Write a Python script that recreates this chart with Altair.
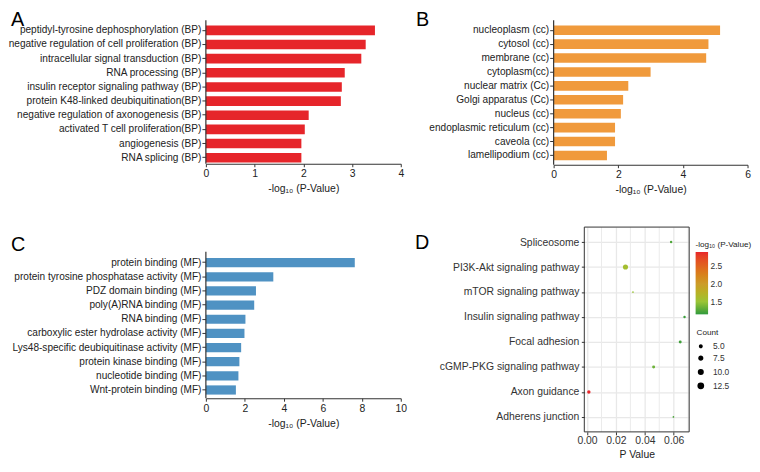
import altair as alt
import numpy as np
import pandas as pd

FONT = "Liberation Sans"
TXT = "#222222"

bp_terms = ["peptidyl-tyrosine dephosphorylation (BP)",
            "negative regulation of cell proliferation (BP)",
            "intracellular signal transduction (BP)",
            "RNA processing (BP)",
            "insulin receptor signaling pathway (BP)",
            "protein K48-linked deubiquitination(BP)",
            "negative regulation of axonogenesis (BP)",
            "activated T cell proliferation(BP)",
            "angiogenesis (BP)",
            "RNA splicing (BP)"]
bp_vals = [3.47, 3.28, 3.19, 2.85, 2.79, 2.77, 2.11, 2.03, 1.96, 1.96]

cc_terms = ["nucleoplasm (cc)", "cytosol (cc)", "membrane (cc)", "cytoplasm(cc)",
            "nuclear matrix (Cc)", "Golgi apparatus (Cc)", "nucleus (cc)",
            "endoplasmic reticulum (cc)", "caveola (cc)", "lamellipodium (cc)"]
cc_vals = [5.15, 4.79, 4.72, 3.00, 2.31, 2.15, 2.08, 1.90, 1.90, 1.65]

mf_terms = ["protein binding (MF)",
            "protein tyrosine phosphatase activity (MF)",
            "PDZ domain binding (MF)",
            "poly(A)RNA binding (MF)",
            "RNA binding (MF)",
            "carboxylic ester hydrolase activity (MF)",
            "Lys48-specific deubiquitinase activity (MF)",
            "protein kinase binding (MF)",
            "nucleotide binding (MF)",
            "Wnt-protein binding (MF)"]
mf_vals = [7.64, 3.46, 2.57, 2.48, 2.03, 1.98, 1.81, 1.72, 1.67, 1.54]

kegg_terms = ["Spliceosome", "PI3K-Akt signaling pathway", "mTOR signaling pathway",
              "Insulin signaling pathway", "Focal adhesion", "cGMP-PKG signaling pathway",
              "Axon guidance", "Adherens junction"]
kegg_p = [0.0582, 0.0266, 0.0318, 0.0675, 0.0645, 0.0461, 0.00125, 0.0598]
kegg_count = [5, 12, 4, 5, 6, 6, 7, 4]

p_ticks = [0.0, 0.02, 0.04, 0.06]
minor_grid = [0.01, 0.03, 0.05, 0.07]

XTITLE = "-log\u2081\u2080 (P-Value)"

D_W, D_H = 106, 207


def letter_layer(letter, lx, ly):
    return alt.Chart(pd.DataFrame({"t": [letter]})).mark_text(
        align="left", baseline="top", fontSize=20, font=FONT, color="black"
    ).encode(text="t:N", x=alt.value(lx), y=alt.value(ly))


def bar_panel(terms, vals, color, xmax, xticks, letter, lx, ly, width, height,
              step, bar_h, top_gap, lead=0):
    """lead = empty space above the drawn axis (keeps the plot aligned in a row)."""
    n = len(terms)
    total = height + lead
    pin = 1 - bar_h / step
    pout = (height / step - (n - pin)) / 2
    free = height - step * (n - pin)
    align = top_gap / free
    sc = dict(paddingInner=pin, paddingOuter=pout, align=align)
    if lead:
        sc["range"] = [lead, total]
    df = pd.DataFrame({"term": terms, "value": vals})
    bars = alt.Chart(df).mark_bar(color=color).encode(
        x=alt.X("value:Q", scale=alt.Scale(domain=[0, xmax], nice=False, zero=True),
                axis=alt.Axis(values=xticks, format="d", title=XTITLE, grid=False,
                              labelFlush=False, labelOverlap=False,
                              domainColor="#333333", domainWidth=1.2,
                              tickColor="#333333", tickWidth=1, tickSize=3,
                              labelPadding=2, titlePadding=5,
                              labelFontSize=10.5, titleFontSize=10.5)),
        y=alt.Y("term:N", sort=terms, scale=alt.Scale(**sc),
                axis=alt.Axis(title=None, labelLimit=400, labelFontSize=10.2,
                              tickSize=4, labelPadding=1, domain=False,
                              tickColor="#333333", grid=False)),
    )
    yline = alt.Chart(pd.DataFrame({"z": [0]})).mark_rule(
        color="#333333", strokeWidth=1.2
    ).encode(x=alt.value(0), y=alt.value(lead), y2=alt.value(total))
    layers = [bars, yline, letter_layer(letter, lx, lead + ly)]
    return alt.layer(*layers).properties(width=width, height=total)


A = bar_panel(bp_terms, bp_vals, "#e6252a", 4, [0, 1, 2, 3, 4], "A", -197, -10, 197, 145,
              step=14.3, bar_h=9.7, top_gap=5.3)
B = bar_panel(cc_terms, cc_vals, "#f09a3c", 6, [0, 2, 4, 6], "B", -139, -10, 196, 146,
              step=14.07, bar_h=9.7, top_gap=5.15)
C = bar_panel(mf_terms, mf_vals, "#4f92c3", 10, [0, 2, 4, 6, 8, 10], "C", -197, -17, 197, 148,
              step=14.3, bar_h=9.3, top_gap=6.3, lead=25)

kd = pd.DataFrame({"term": kegg_terms, "p": kegg_p, "count": kegg_count})
kd["logp"] = -np.log10(kd["p"])

xscale = alt.Scale(domain=[-0.0019, 0.0707], nice=False, zero=False)
xaxis = alt.Axis(values=p_ticks, format=".2f", title="P Value",
                 grid=True, gridColor="#e8e8e8", gridWidth=1.3, domain=False,
                 tickColor="#333333", tickSize=3, labelFlush=False,
                 labelOverlap=False, labelPadding=1, titlePadding=3,
                 labelColor="#333333", titleColor="#222222",
                 labelFontSize=10.5, titleFontSize=10.5)

minor = alt.Chart(pd.DataFrame({"m": minor_grid})).mark_rule(
    color="#ebebeb", strokeWidth=1.0
).encode(x=alt.X("m:Q", scale=xscale, axis=xaxis))

pts = alt.Chart(kd).mark_circle(opacity=1).encode(
    x=alt.X("p:Q", scale=xscale, axis=xaxis),
    y=alt.Y("term:N", sort=kegg_terms, scale=alt.Scale(type="point", padding=0.6),
            axis=alt.Axis(title=None, grid=True, gridColor="#e8e8e8", gridWidth=1.3,
                          domain=False, tickColor="#333333", tickSize=3, labelPadding=2.5,
                          labelColor="#333333", labelFontSize=10.5, labelLimit=300)),
    color=alt.Color("logp:Q",
                    scale=alt.Scale(domain=[1.14, 1.5, 2.0, 2.5, 2.905],
                                    range=["#2f9a3c", "#9ac437", "#cc9c2a", "#e0641f", "#e8262a"]),
                    legend=alt.Legend(type="gradient", values=[1.5, 2.0, 2.5], format=".1f",
                                      title="-log\u2081\u2080 (P-Value)", gradientLength=63,
                                      gradientThickness=12.6, gradientStrokeWidth=0,
                                      orient="none", legendX=112.5, legendY=14,
                                      labelOffset=2.5, titlePadding=3)),
    size=alt.Size("count:Q", scale=alt.Scale(domain=[4, 13], range=[3, 30]),
                  legend=alt.Legend(values=[5, 7.5, 10, 12.5], format=".1f", title="Count",
                                    symbolFillColor="black", symbolStrokeColor="black",
                                    symbolType="circle", orient="none",
                                    legendX=113.5, legendY=103, titlePadding=5,
                                    rowPadding=2, labelOffset=8)),
)

frame = alt.Chart(pd.DataFrame({"f": [0]})).mark_rect(
    fill=None, fillOpacity=0, stroke="#333333", strokeWidth=1
).encode(x=alt.value(0), x2=alt.value(D_W), y=alt.value(0), y2=alt.value(D_H))

D = alt.layer(minor, pts, frame, letter_layer("D", -171, 6)).properties(
    width=D_W, height=D_H
)

top = alt.hconcat(A, B, spacing=12.5)
bottom = alt.hconcat(C, D, spacing=8.5).resolve_legend(
    color="independent", size="independent")

chart = alt.vconcat(top, bottom, spacing=31).resolve_legend(
    color="independent", size="independent"
).properties(padding=0).configure_view(
    stroke=None
).configure_axis(
    labelFont=FONT, titleFont=FONT, labelColor=TXT, titleColor=TXT,
    titleFontWeight="normal"
).configure_legend(
    titleFont=FONT, labelFont=FONT, titleFontSize=8.2, labelFontSize=8.5,
    titleFontWeight="normal", titleColor=TXT, labelColor="#333333",
    padding=0
)

chart.save("out.html", embed_options={"renderer": "svg", "actions": False})
